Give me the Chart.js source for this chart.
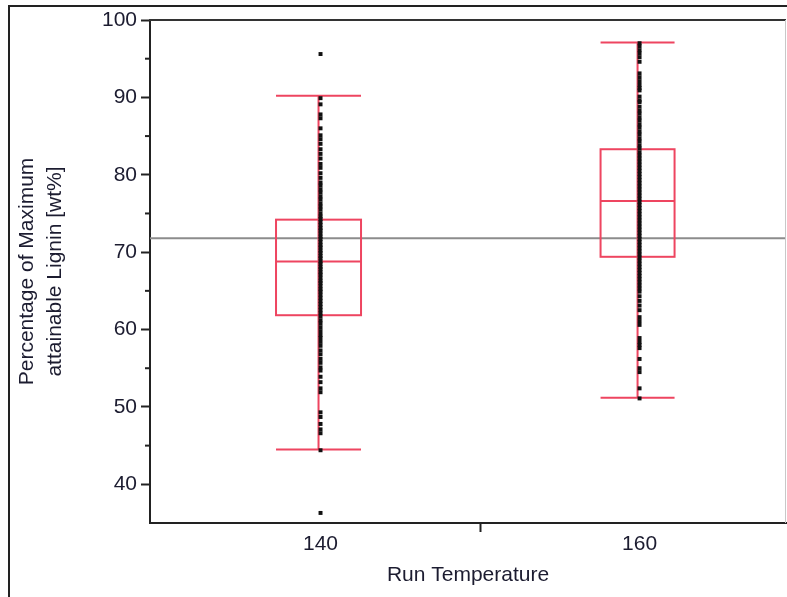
<!DOCTYPE html>
<html>
<head>
<meta charset="utf-8">
<script src="https://cdn.jsdelivr.net/npm/chart.js@4"></script>
<style>
  html, body { margin: 0; padding: 0; background: #fff; }
  #wrap { position: relative; width: 787px; height: 597px; overflow: hidden; }
  #frame { position: absolute; left: 8px; top: 5px; width: 820px; height: 620px;
           border-left: 2px solid #222; border-top: 2px solid #222; }
  #chart { position: absolute; left: 0; top: 0; }
</style>
</head>
<body>
<div id="wrap">
  <div id="frame"></div>
  <canvas id="chart" width="787" height="597"></canvas>
</div>
<script>
// box plot summary per run temperature
const categories = [140, 160];
const whiskerLow = [44.5, 51.2];
const q1 = [61.85, 69.4];
const median = [68.8, 76.6];
const q3 = [74.2, 83.3];
const whiskerHigh = [90.2, 97.1];
const grandMean = 71.8;

// individual runs
const lignin140 = [95.6, 89.9, 89.1, 87.8, 87.3, 86.0, 85.1, 84.6, 84.0, 83.3, 82.7, 82.1,
  81.4, 80.9, 80.2, 79.6, 79.0, 78.6, 78.1, 77.7, 77.2, 76.8, 76.3, 75.9, 75.5, 75.0,
  74.6, 74.3, 73.9, 73.5, 73.1, 72.8, 72.4, 72.0, 71.7, 71.3, 70.9, 70.6, 70.2, 69.9,
  69.5, 69.2, 68.8, 68.5, 68.1, 67.8, 67.4, 67.1, 66.7, 66.3, 66.0, 65.6, 65.2, 64.9,
  64.5, 64.1, 63.7, 63.3, 62.9, 62.5, 62.1, 61.7, 61.2, 60.8, 60.3, 59.8, 59.3, 58.9,
  58.4, 57.9, 57.3, 56.8, 56.2, 55.7, 55.1, 54.7, 53.9, 53.2, 52.4, 51.9, 49.3, 48.7,
  47.8, 47.1, 46.6, 44.4, 36.3];
const lignin160 = [97.0, 96.6, 96.1, 95.7, 95.2, 94.6, 93.1, 92.6, 92.1, 91.6, 91.2, 90.9,
  90.1, 89.6, 89.4, 88.8, 88.3, 87.9, 87.4, 87.0, 86.5, 86.1, 85.6, 85.2, 84.7, 84.3,
  83.8, 83.4, 82.9, 82.5, 82.1, 81.7, 81.3, 80.9, 80.5, 80.1, 79.7, 79.3, 78.9, 78.5,
  78.1, 77.7, 77.3, 76.9, 76.5, 76.1, 75.7, 75.3, 74.9, 74.5, 74.1, 73.7, 73.3, 72.9,
  72.5, 72.1, 71.7, 71.3, 70.9, 70.5, 70.1, 69.7, 69.3, 68.9, 68.5, 68.1, 67.7, 67.3,
  66.9, 66.5, 66.1, 65.7, 65.3, 64.9, 64.3, 63.7, 63.1, 62.5, 61.6, 61.1, 60.6, 58.9,
  58.4, 58.0, 57.6, 56.2, 55.0, 54.5, 52.4, 51.1];

const yTicks = [40, 50, 60, 70, 80, 90, 100];
const yMinorTicks = [45, 55, 65, 75, 85, 95];
const xTicks = [140, 150, 160];

const boxHalfWidth = [42.5, 37];
const red = '#ee4560';
const ink = '#1c1c30';
const font = { family: 'Liberation Sans, Arial, sans-serif', size: 21 };

const boxPlugin = {
  id: 'boxes',
  beforeDatasetsDraw(chart) {
    const { ctx, chartArea, scales: { x, y } } = chart;
    ctx.save();
    ctx.beginPath();
    ctx.rect(chartArea.left, chartArea.top, chartArea.right - chartArea.left, chartArea.bottom - chartArea.top);
    ctx.clip();

    // grand mean line
    const gy = y.getPixelForValue(grandMean);
    ctx.strokeStyle = '#8c8c8c';
    ctx.lineWidth = 2;
    ctx.beginPath();
    ctx.moveTo(chartArea.left, gy);
    ctx.lineTo(chartArea.right, gy);
    ctx.stroke();

    ctx.strokeStyle = red;
    ctx.lineWidth = 2;
    categories.forEach((c, i) => {
      const cx = x.getPixelForValue(c) - 2;
      const hw = boxHalfWidth[i];
      const yLo = y.getPixelForValue(whiskerLow[i]);
      const yHi = y.getPixelForValue(whiskerHigh[i]);
      const yQ1 = y.getPixelForValue(q1[i]);
      const yQ3 = y.getPixelForValue(q3[i]);
      const yMed = y.getPixelForValue(median[i]);
      ctx.beginPath();
      ctx.moveTo(cx, yHi); ctx.lineTo(cx, yLo);
      ctx.moveTo(cx - hw, yHi); ctx.lineTo(cx + hw, yHi);
      ctx.moveTo(cx - hw, yLo); ctx.lineTo(cx + hw, yLo);
      ctx.moveTo(cx - hw, yMed); ctx.lineTo(cx + hw, yMed);
      ctx.stroke();
      ctx.strokeRect(cx - hw, yQ3, hw * 2, yQ1 - yQ3);
    });
    ctx.restore();
  },
  afterDraw(chart) {
    const { ctx, chartArea, scales: { y } } = chart;
    ctx.save();
    // top border and light right edge of the plot frame
    ctx.strokeStyle = '#333';
    ctx.lineWidth = 2;
    ctx.beginPath();
    ctx.moveTo(chartArea.left - 1, chartArea.top);
    ctx.lineTo(chartArea.right, chartArea.top);
    ctx.stroke();
    ctx.strokeStyle = '#c8c8c8';
    ctx.lineWidth = 1;
    ctx.beginPath();
    ctx.moveTo(chartArea.right - 0.5, chartArea.top);
    ctx.lineTo(chartArea.right - 0.5, chartArea.bottom);
    ctx.stroke();
    // minor ticks on the y axis
    ctx.strokeStyle = '#222';
    ctx.lineWidth = 2;
    yMinorTicks.forEach(v => {
      const py = y.getPixelForValue(v);
      ctx.beginPath();
      ctx.moveTo(chartArea.left - 5, py);
      ctx.lineTo(chartArea.left, py);
      ctx.stroke();
    });
    ctx.restore();
  }
};

const pointStyle = { pointStyle: 'rect', pointRadius: 2.8, backgroundColor: '#111', borderColor: '#111', borderWidth: 0 };

const chart = new Chart(document.getElementById('chart'), {
  type: 'scatter',
  data: {
    datasets: [
      { label: '140', data: lignin140.map(v => ({ x: categories[0], y: v })), ...pointStyle },
      { label: '160', data: lignin160.map(v => ({ x: categories[1], y: v })), ...pointStyle },
    ],
  },
  options: {
    responsive: false,
    animation: false,
    devicePixelRatio: 1,
    layout: { autoPadding: false, padding: { top: 20, right: 1, bottom: 0, left: 0 } },
    plugins: { legend: { display: false }, tooltip: { enabled: false } },
    scales: {
      x: {
        type: 'linear',
        min: 129.31,
        max: 169.18,
        afterBuildTicks: (s) => { s.ticks = xTicks.map(v => ({ value: v })); },
        afterFit: (s) => { s.height = 74; s.paddingLeft = 0; s.paddingRight = 0; },
        ticks: {
          callback: (v) => (categories.includes(v) ? String(v) : ''),
          font: font,
          color: ink,
          padding: 0,
          maxRotation: 0,
          autoSkip: false,
        },
        grid: {
          drawOnChartArea: false,
          tickLength: 9,
          tickWidth: 2,
          tickColor: (ctx) => (ctx.tick && ctx.tick.value === 150 ? '#222' : 'rgba(0,0,0,0)'),
        },
        border: { color: '#222', width: 2 },
        title: { display: true, text: 'Run Temperature', font: font, color: ink, padding: { top: 0, bottom: 9 } },
      },
      y: {
        min: 35,
        max: 100,
        afterBuildTicks: (s) => { s.ticks = yTicks.map(v => ({ value: v })); },
        afterFit: (s) => { s.width = 150; },
        ticks: { font: font, color: ink, padding: 4, autoSkip: false },
        grid: { drawOnChartArea: false, tickLength: 9, tickWidth: 2, tickColor: '#222' },
        border: { color: '#222', width: 2 },
        title: {
          display: true,
          text: ['Percentage of Maximum', 'attainable Lignin [wt%]'],
          font: { ...font, lineHeight: 1.3 },
          color: ink,
          padding: { top: 14, bottom: 0 },
        },
      },
    },
  },
  plugins: [boxPlugin],
});
</script>
</body>
</html>
